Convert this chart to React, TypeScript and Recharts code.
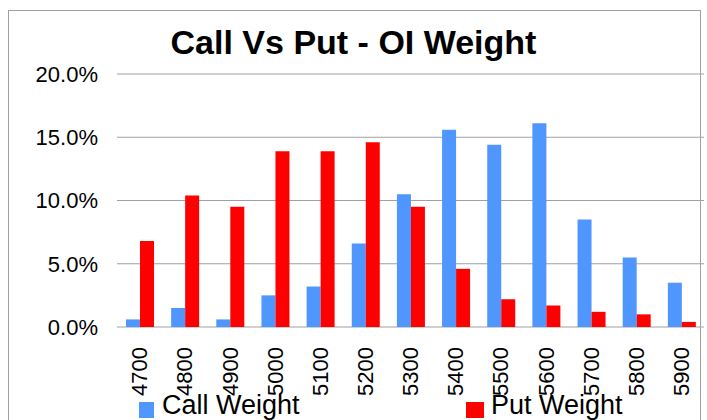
import { BarChart, Bar, XAxis, YAxis, CartesianGrid } from 'recharts';

const strikes = ['4700', '4800', '4900', '5000', '5100', '5200', '5300', '5400', '5500', '5600', '5700', '5800', '5900'];
const callWeight = [0.006, 0.015, 0.006, 0.025, 0.032, 0.066, 0.105, 0.156, 0.144, 0.161, 0.085, 0.055, 0.035];
const putWeight = [0.068, 0.104, 0.095, 0.139, 0.139, 0.146, 0.095, 0.046, 0.022, 0.017, 0.012, 0.010, 0.004];
const yTicks = [0, 0.05, 0.1, 0.15, 0.2];

const CALL_COLOR = '#4f96ff';
const PUT_COLOR = '#ff0000';
const FONT = '"Liberation Sans", Arial, sans-serif';

const data = strikes.map((strike, i) => ({
  strike,
  call: callWeight[i],
  put: putWeight[i],
}));

function StrikeTick({ x, y, payload }: { x?: number; y?: number; payload?: { value: string } }) {
  const ty = (y ?? 0) + 12;
  return (
    <text
      x={x}
      y={ty}
      dy="0.35em"
      transform={`rotate(-90, ${x}, ${ty})`}
      textAnchor="end"
      fontSize={22}
      fontFamily={FONT}
      fill="#000"
    >
      {payload?.value}
    </text>
  );
}

export default function App() {
  return (
    <div style={{ position: 'absolute', left: 0, top: 0, width: 707, height: 420, overflow: 'hidden', background: '#fff' }}>
      <div
        style={{
          position: 'absolute',
          left: 8,
          top: 10,
          width: 693,
          height: 440,
          border: '1px solid #a0a0a0',
          boxSizing: 'border-box',
        }}
      />
      <div
        style={{
          position: 'absolute',
          left: 0,
          top: 23,
          width: 707,
          textAlign: 'center',
          fontFamily: FONT,
          fontWeight: 'bold',
          fontSize: 34,
          color: '#000',
        }}
      >
        Call Vs Put - OI Weight
      </div>
      <div style={{ position: 'absolute', left: 0, top: 0 }}>
        <BarChart
          width={707}
          height={420}
          data={data}
          margin={{ top: 74, right: 3, bottom: 0, left: 0 }}
          barSize={14}
          barGap={0}
        >
          <CartesianGrid vertical={false} stroke="#a0a0a0" />
          <XAxis
            dataKey="strike"
            axisLine={false}
            tickLine={false}
            interval={0}
            height={93}
            tick={<StrikeTick />}
          />
          <YAxis
            width={117}
            domain={[0, 0.2]}
            ticks={yTicks}
            axisLine={false}
            tickLine={false}
            tickSize={0}
            tickMargin={19}
            tick={{ fontSize: 22, fontFamily: FONT, fill: '#000' }}
            tickFormatter={(v: number) => `${(v * 100).toFixed(1)}%`}
          />
          <Bar dataKey="call" name="Call Weight" fill={CALL_COLOR} isAnimationActive={false} />
          <Bar dataKey="put" name="Put Weight" fill={PUT_COLOR} isAnimationActive={false} />
        </BarChart>
      </div>
      <div style={{ position: 'absolute', left: 139, top: 402, width: 15, height: 16, background: CALL_COLOR }} />
      <div style={{ position: 'absolute', left: 162, top: 390, fontFamily: FONT, fontSize: 27, color: '#000', whiteSpace: 'nowrap' }}>
        Call Weight
      </div>
      <div style={{ position: 'absolute', left: 466, top: 402, width: 18, height: 16, background: PUT_COLOR }} />
      <div style={{ position: 'absolute', left: 491, top: 390, fontFamily: FONT, fontSize: 27, color: '#000', whiteSpace: 'nowrap' }}>
        Put Weight
      </div>
    </div>
  );
}
